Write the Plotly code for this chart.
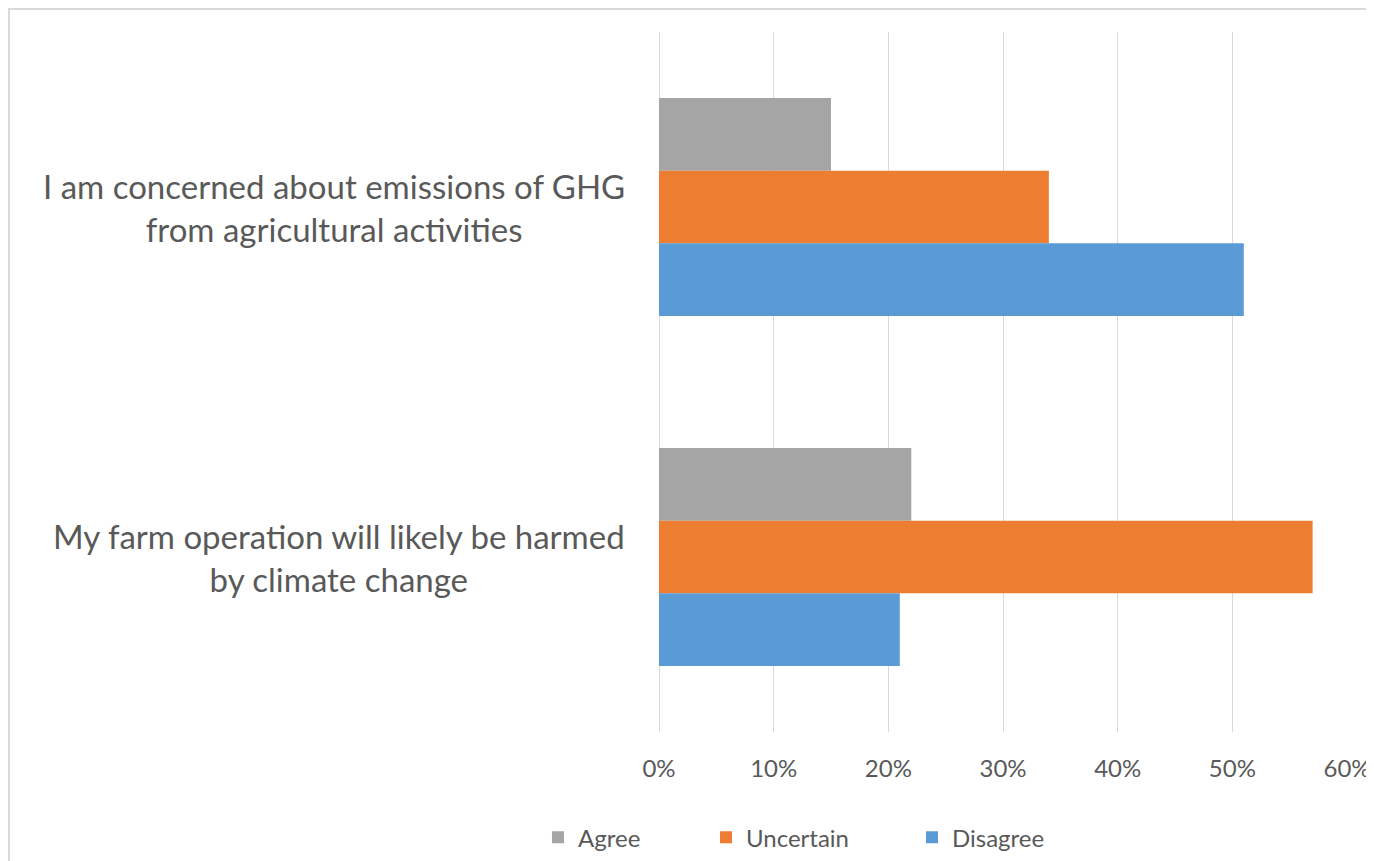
import plotly.graph_objects as go

# data
categories = [
    "I am concerned about emissions of GHG<br>from agricultural activities",
    "My farm operation will likely be harmed<br>by climate change",
]
series_names = ["Agree", "Uncertain", "Disagree"]
agree = [0.15, 0.22]
uncertain = [0.34, 0.57]
disagree = [0.51, 0.21]
tick_vals = [0, 0.1, 0.2, 0.3, 0.4, 0.5, 0.6]
tick_text = ["0%", "10%", "20%", "30%", "40%", "50%", "60%"]

colors = ["#A5A5A5", "#ED7D31", "#5B9BD5"]
legend_ids = ["legend", "legend2", "legend3"]
legend_x = [-0.1759, 0.0683, 0.3677]
font_family = "Lato, 'Open Sans', sans-serif"
text_color = "#595959"

fig = go.Figure()
for name, vals, col, lg in zip(series_names, [agree, uncertain, disagree], colors, legend_ids):
    fig.add_trace(go.Bar(y=categories, x=vals, name=name, orientation="h", legend=lg,
                         showlegend=True, marker=dict(color=col, line=dict(width=0))))

# category labels as centred multi-line annotations
for cat in categories:
    fig.add_annotation(x=0, y=cat, xref="x", yref="y", text=cat, showarrow=False,
                       xanchor="right", yanchor="middle", align="center", xshift=-32,
                       font=dict(family=font_family, size=33, color=text_color))

# outer chart border (figure sits inside the page's 8px body margin)
fig.add_shape(type="rect", xref="paper", yref="paper",
              x0=-0.9448, x1=1.1, y0=-0.3, y1=1.033,
              line=dict(color="#D9D9D9", width=2), fillcolor="rgba(0,0,0,0)")

# one legend per series so each entry sits where the reference puts it
for lg, lx in zip(legend_ids, legend_x):
    fig.update_layout({lg: dict(orientation="h", x=lx, xanchor="left", y=-0.151,
                                yanchor="middle", bgcolor="rgba(0,0,0,0)",
                                font=dict(size=24, color=text_color), itemwidth=30)})

fig.update_layout(
    width=1366, height=853,
    showlegend=True,
    margin=dict(l=651, r=27, t=24, b=129, autoexpand=False),
    paper_bgcolor="white", plot_bgcolor="white",
    barmode="group", bargap=0.377, bargroupgap=0,
    font=dict(family=font_family, color=text_color, size=22),
    xaxis=dict(range=[0, 0.6], tickvals=tick_vals, ticktext=tick_text,
               showgrid=True, gridcolor="#D9D9D9", gridwidth=1,
               zeroline=True, zerolinecolor="#D9D9D9", zerolinewidth=1,
               showline=False, ticks="", ticklabelstandoff=20, automargin=False,
               tickfont=dict(size=24, color=text_color)),
    yaxis=dict(autorange="reversed", showticklabels=False, showgrid=False,
               zeroline=False, showline=False, ticks="", automargin=False),
)

fig.write_html("out.html")
